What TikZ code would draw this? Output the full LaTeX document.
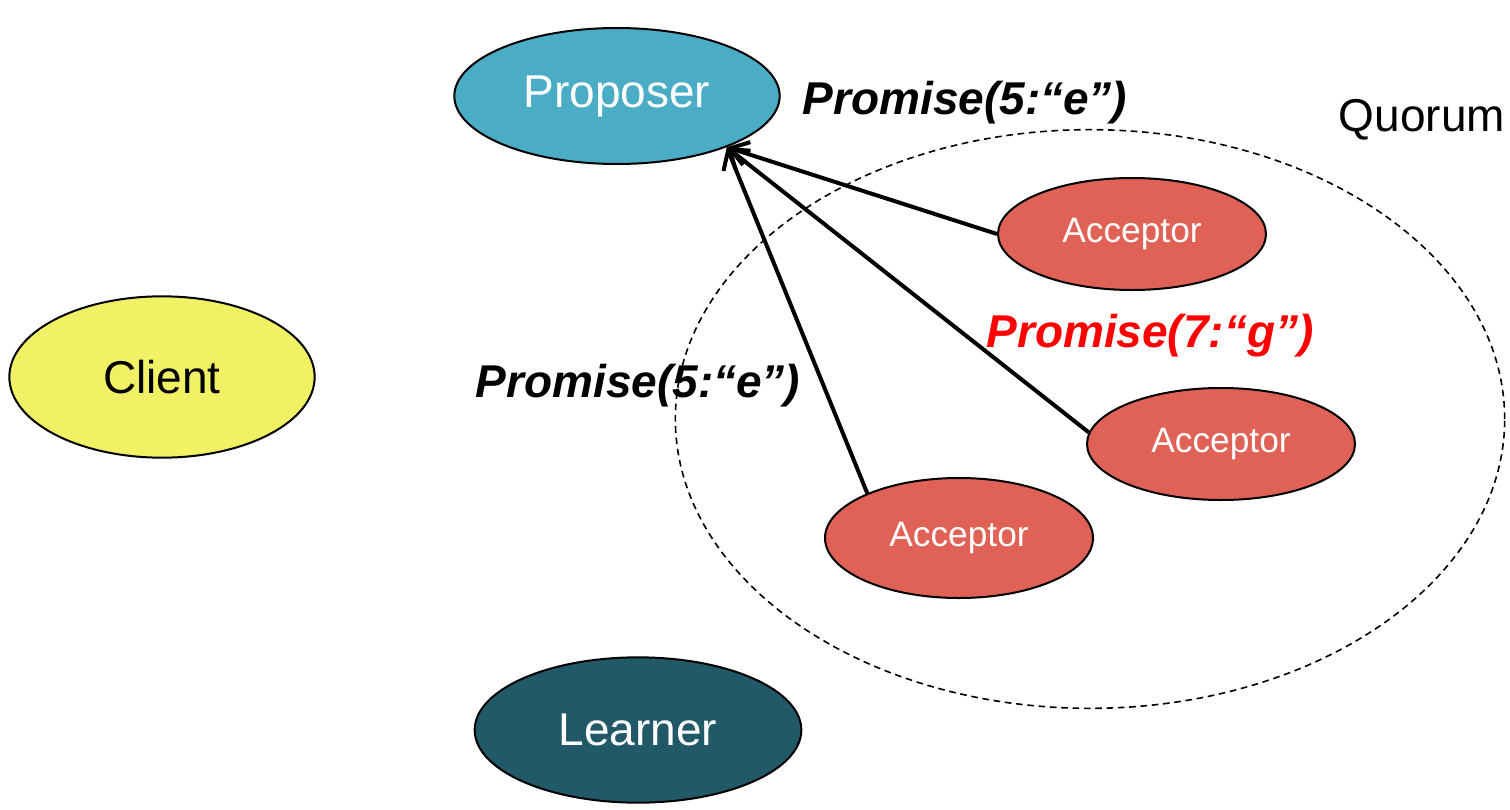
\documentclass[tikz,border=0pt]{standalone}
\usepackage{fontspec}
\setmainfont{Liberation Sans}
\usetikzlibrary{positioning,shapes.geometric,arrows.meta}

\definecolor{propblue}{HTML}{4BACC6}
\definecolor{clientyellow}{HTML}{F1F165}
\definecolor{learnteal}{HTML}{215968}
\definecolor{accred}{HTML}{E06155}

\begin{document}
\begin{tikzpicture}[x=0.75pt, y=-0.75pt,
  role/.style={ellipse, draw=black, line width=1.5pt, inner sep=0pt, font=\fontsize{34.5}{40}\selectfont},
  acc/.style={role, fill=accred, text=white, minimum width=201pt, minimum height=84pt, font=\fontsize{26.5}{31}\selectfont},
  msg/.style={font=\fontsize{34.5}{40}\selectfont\bfseries\itshape},
  reply/.style={line width=3pt, -{Straight Barb[length=13pt, width=18pt, line width=3pt]}}]
\useasboundingbox (0,0) rectangle (1510,810);

\node[ellipse, draw, line width=1.2pt, dash pattern=on 5pt off 3.5pt, minimum width=622pt, minimum height=434pt] (q) at (1090,419) {};
\node[font=\fontsize{34.5}{40}\selectfont] (qlabel) at (1422,120) {Quorum};

\node[role, fill=propblue, text=white, minimum width=244pt, minimum height=102pt] (prop) at (617,96) {Proposer};
\node[role, fill=clientyellow, minimum width=229pt, minimum height=121pt] (client) at (162,377) {Client};
\node[role, fill=learnteal, text=white, minimum width=245pt, minimum height=109pt] (learn) at (638,730) {Learner};

\node[acc] (a1) at (1132,234) {Acceptor};
\node[acc] (a2) at (1221,444) {Acceptor};
\node[acc, minimum height=90pt] (a3) at (959,538) {Acceptor};

\coordinate (hit) at (prop.-25);

\draw[reply] (a1.west) -- (hit);
\draw[reply] (a2.175) -- (hit);
\draw[reply] (a3.154) -- (hit);

\node[msg] (m1) at (965,103) {Promise(5:“e”)};
\node[msg, text=red] (m2) at (1150,336) {Promise(7:“g”)};
\node[msg] (m3) at (638,386) {Promise(5:“e”)};

\end{tikzpicture}
\end{document}
